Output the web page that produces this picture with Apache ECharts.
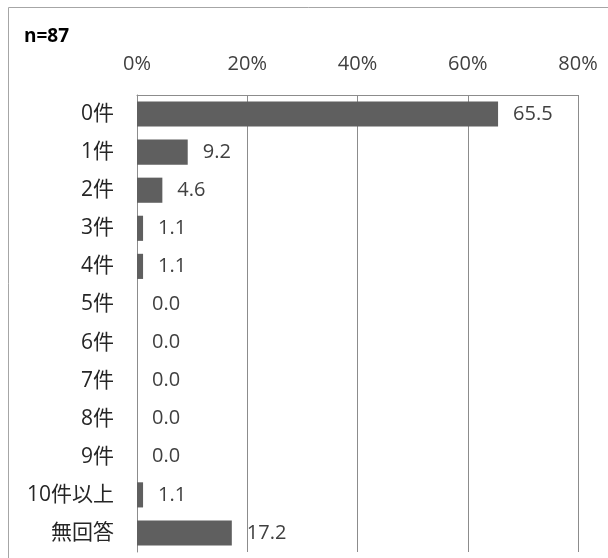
<!DOCTYPE html>
<html><head><meta charset="utf-8">
<script src="https://cdn.jsdelivr.net/npm/echarts@6/dist/echarts.min.js"></script>
<style>html,body{margin:0;padding:0;background:#fff}#c{width:608px;height:558px}</style>
</head><body><div id="c"></div>
<script>
const categories = ["0件","1件","2件","3件","4件","5件","6件","7件","8件","9件","10件以上","無回答"];
const values = [65.5, 9.2, 4.6, 1.1, 1.1, 0.0, 0.0, 0.0, 0.0, 0.0, 1.1, 17.2];
const xTicks = [0, 20, 40, 60, 80];
const sampleLabel = "n=87";

const font = '"Open Sans","Noto Sans CJK JP",sans-serif';
const chart = echarts.init(document.getElementById('c'), null, {renderer:'canvas'});
chart.setOption({
  animation:false,
  backgroundColor:'#fff',
  graphic:[
    {type:'rect', shape:{x:8.5,y:7.5,width:620,height:600}, style:{fill:'none',stroke:'#a6a6a6',lineWidth:1}, z:-1},
    {type:'text', left:24, top:27, style:{text:sampleLabel, font:'bold 19px "Open Sans","Noto Sans CJK JP",sans-serif', fill:'#000'}}
  ],
  grid:{left:137, right:30, top:95, bottom:6},
  xAxis:{
    type:'value', position:'top', min:xTicks[0], max:xTicks[xTicks.length-1], interval:20,
    axisLine:{show:true, lineStyle:{color:'#8c8c8c', width:1}},
    axisTick:{show:false},
    axisLabel:{formatter:'{value}%', fontSize:20, color:'#404040', fontFamily:font, margin:21},
    splitLine:{show:true, lineStyle:{color:'#8c8c8c', width:1}}
  },
  yAxis:{
    type:'category', inverse:true, data:categories,
    axisLine:{show:true, lineStyle:{color:'#8c8c8c', width:1}},
    axisTick:{show:false},
    axisLabel:{fontSize:21, color:'#262626', fontFamily:font, margin:23}
  },
  series:[{
    type:'bar', data:values, barWidth:'66%',
    itemStyle:{color:'#5f5f5f'},
    label:{show:true, position:'right', distance:15, fontSize:20, color:'#404040', fontFamily:font,
      formatter:p=>p.value.toFixed(1)}
  }]
});
</script></body></html>
